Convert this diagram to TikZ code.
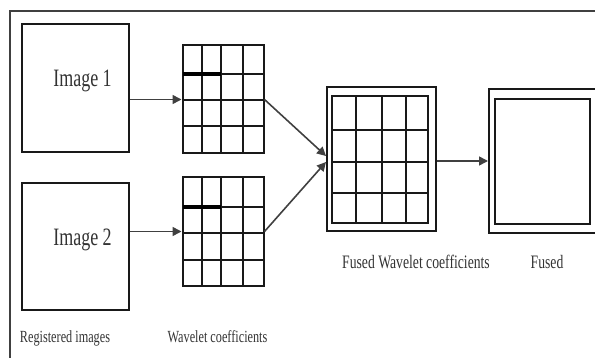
\documentclass[tikz,border=0pt]{standalone}
\usepackage{fontspec}
\usetikzlibrary{arrows.meta}
\newfontfamily\labelfont[FakeStretch=0.72]{Liberation Serif}

\begin{document}
\begin{tikzpicture}[x=1pt,y=-1pt,>={Triangle[length=9pt,width=9pt]}]
	\tikzstyle{frame} = [draw=black!75, line width=1.6pt]
	\tikzstyle{box} = [draw=black!90, line width=2pt, inner sep=0pt]
	\tikzstyle{cell} = [draw=black!90, line width=1.8pt]
	\tikzstyle{bar} = [draw=black, line width=4pt]
	\tikzstyle{arrow} = [black!75, line width=1.6pt]
	\tikzstyle{big} = [font=\labelfont\fontsize{25}{28}\selectfont, text=black!80, anchor=base]
	\tikzstyle{small} = [font=\labelfont\fontsize{17}{20}\selectfont, text=black!80, anchor=base]
	\tikzstyle{medium} = [font=\labelfont\fontsize{19}{22}\selectfont, text=black!80, anchor=base]
	\useasboundingbox (0,0) rectangle (595,358);
	\draw[frame] (10,11) rectangle (620,380);
		% registered images
		\node[box, minimum width=107pt, minimum height=128pt] (img1) at (75.5,88) {};
		\node[box, minimum width=107pt, minimum height=127pt] (img2) at (75.5,246.5) {};
		\node[big] (lab1) at (82.5,87) {Image 1};
		\node[big] (lab2) at (82.5,246) {Image 2};
		% wavelet coefficients
		\node[box, minimum width=81pt, minimum height=108pt] (g1) at (223,99.5) {};
		\node[box, minimum width=81pt, minimum height=109pt] (g2) at (223,231.5) {};
	\draw[cell] (202,45.5) -- (202,153.5) (221,45.5) -- (221,153.5) (243,45.5) -- (243,153.5)
		(182.5,74) -- (263.5,74) (182.5,100) -- (263.5,100) (182.5,126) -- (263.5,126);
	\draw[cell] (202,177) -- (202,286) (221,177) -- (221,286) (243,177) -- (243,286)
		(182.5,207) -- (263.5,207) (182.5,233) -- (263.5,233) (182.5,260) -- (263.5,260);
	\draw[bar] (182.5,74) -- (221,74);
	\draw[bar] (182.5,207) -- (221,207);
		% fused wavelet coefficients
		\node[box, minimum width=109pt, minimum height=144pt] (fg) at (381.5,159) {};
		\node[box, minimum width=96pt, minimum height=127pt] (fgi) at (380,159.5) {};
	\draw[cell] (356,96) -- (356,223) (382,96) -- (382,223) (406,96) -- (406,223)
		(332,130) -- (428,130) (332,162) -- (428,162) (332,193) -- (428,193);
		% fused image
		\node[box, minimum width=111pt, minimum height=144pt] (fo) at (544.5,161) {};
		\node[box, minimum width=95pt, minimum height=125pt] (fi) at (542.5,161.5) {};
		% captions
		\node[small] (cap1) at (65,343) {Registered images};
		\node[small] (cap2) at (217.5,343) {Wavelet coefficients};
		\node[medium] (cap3) at (416,269) {Fused Wavelet coefficients};
		\node[medium] (cap4) at (547,269) {Fused};
	\path [->, arrow] (img1.east |- g1.west) edge (g1.west)
		       (img2.east |- g2.west) edge (g2.west)
		       (g1.east) edge ([yshift=3pt]fg.west)
		       (g2.east) edge ([yshift=-3pt]fg.west)
		       (fg.east |- fo.west) edge (fo.west);
	\end{tikzpicture}
\end{document}
